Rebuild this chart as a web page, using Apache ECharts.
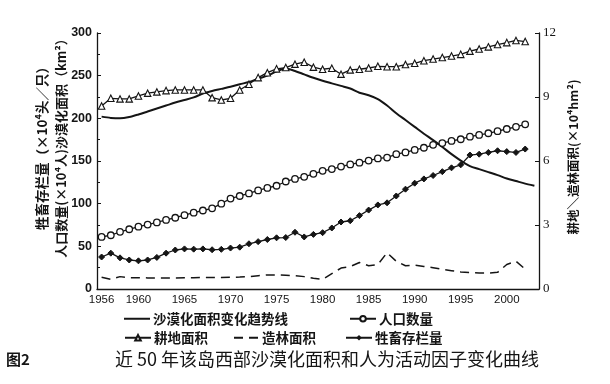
<!DOCTYPE html>
<html>
<head>
<meta charset="utf-8">
<script src="https://cdn.jsdelivr.net/npm/echarts@6/dist/echarts.min.js"></script>
<style>
html,body{margin:0;padding:0;background:#fff;}
#c{width:610px;height:384px;}
</style>
</head>
<body>
<div id="c"></div>
<script>
// Categories (years); 2003 only carries the end of the trend line
var years = ['1956','1957','1958','1959','1960','1961','1962','1963','1964','1965',
  '1966','1967','1968','1969','1970','1971','1972','1973','1974','1975',
  '1976','1977','1978','1979','1980','1981','1982','1983','1984','1985',
  '1986','1987','1988','1989','1990','1991','1992','1993','1994','1995',
  '1996','1997','1998','1999','2000','2001','2002','2003'];
var xTickLabels = ['1956','1960','1965','1970','1975','1980','1985','1990','1995','2000'];

// 沙漠化面积变化趋势线 (km², left axis)
var desertArea = [202, 200.5, 200, 201.5, 204.5, 208, 211.5, 215, 218.5, 221.5,
  224.5, 229, 232, 234.5, 237, 240, 242.5, 246.5, 250, 255,
  258.5, 255.5, 251.5, 247.5, 244, 241, 238, 235, 230, 227,
  222.5, 215, 206, 198, 190, 182, 174.5, 166.5, 158, 150.5,
  144, 140.5, 137, 133.5, 129.5, 126.5, 123.5, 121];
// 人口数量 (×10⁴人, left axis)
var population = [61, 63, 67, 70, 73, 75.5, 78, 81, 83.5, 86.5,
  89.5, 92, 94.5, 100, 106, 109, 112, 115.5, 118.5, 121,
  126, 129, 131.5, 135, 138.5, 140.5, 143.5, 146, 148, 150.5,
  153, 154, 158, 160, 163, 165.5, 169, 171, 173.5, 175.5,
  178.5, 180.5, 182.5, 185, 187.5, 190, 193];
// 牲畜存栏量 (×10⁴头/只, left axis)
var livestock = [37.5, 42, 36.5, 34, 33, 34, 37, 42, 45.7, 47,
  46.7, 47, 46, 46.5, 48, 49, 53, 55.5, 58, 60,
  60.3, 66.5, 61, 64, 66, 71.5, 78.5, 80, 86, 92.5,
  98.5, 101, 109, 117, 124, 129, 133, 137.5, 142, 145.5,
  157, 158, 160, 162, 161, 160, 164];
// 耕地面积 (×10⁴hm², right axis)
var cultivatedArea = [8.58, 8.94, 8.91, 8.91, 9.05, 9.18, 9.24, 9.3, 9.33, 9.33,
  9.33, 9.33, 8.97, 8.86, 8.94, 9.33, 9.6, 9.91, 10.14, 10.32,
  10.38, 10.54, 10.63, 10.4, 10.3, 10.35, 10.07, 10.27, 10.3, 10.36,
  10.44, 10.42, 10.42, 10.52, 10.58, 10.7, 10.78, 10.85, 10.92, 11.0,
  11.15, 11.25, 11.35, 11.46, 11.55, 11.65, 11.6];
// 造林面积 (×10⁴hm², right axis)
var afforestArea = [0.55, 0.45, 0.58, 0.53, 0.53, 0.52, 0.52, 0.52, 0.52, 0.53,
  0.53, 0.54, 0.54, 0.54, 0.55, 0.56, 0.58, 0.62, 0.66, 0.66,
  0.64, 0.62, 0.58, 0.5, 0.45, 0.72, 0.98, 1.05, 1.24, 1.09,
  1.15, 1.7, 1.3, 1.09, 1.12, 1.06, 1.0, 0.92, 0.86, 0.8,
  0.77, 0.75, 0.75, 0.78, 1.15, 1.3, 0.93];

var seriesNames = ['沙漠化面积变化趋势线', '人口数量', '耕地面积', '造林面积', '牲畜存栏量'];
var leftAxisName1 = '牲畜存栏量（×10⁴头／只）';
var leftAxisName2 = '人口数量(×10⁴人)沙漠化面积（km²）';
var rightAxisName = '耕地＼造林面积(×10⁴hm²)';
var figLabel = '图2';
var caption = '近 50 年该岛西部沙漠化面积和人为活动因子变化曲线';

var INK = '#151515';
var NUMFONT = "'Liberation Sans', Arial, sans-serif";
var CJKFONT = "'Noto Sans CJK SC', 'Liberation Sans', sans-serif";

var chart = echarts.init(document.getElementById('c'), null, {renderer: 'canvas'});

function legendAt(item, left, top, iw, ih) {
  return {
    data: [item], left: left, top: top, orient: 'horizontal',
    itemWidth: iw || 26, itemHeight: ih || 7, itemGap: 4, padding: 0,
    textStyle: {color: INK, fontSize: 13.5, fontFamily: CJKFONT, fontWeight: 'bold', padding: [0,0,0,-2]},
    selectedMode: false
  };
}

var option = {
  animation: false,
  backgroundColor: '#fff',
  grid: {left: 97, right: 71, top: 33, bottom: 95},
  legend: [
    legendAt({name: seriesNames[0], icon: 'rect'}, 124, 312, 26, 2),
    legendAt(seriesNames[1], 349, 312),
    legendAt(seriesNames[2], 124, 331),
    legendAt({name: seriesNames[3], icon: 'path://M0,0h9v2h-9zM15,0h9v2h-9z'}, 234, 331, 26, 2),
    legendAt(seriesNames[4], 345, 331)
  ],
  xAxis: {
    type: 'category', data: years, boundaryGap: true,
    axisLine: {lineStyle: {color: INK, width: 1.3}},
    axisTick: {inside: true, alignWithLabel: true, length: 4, lineStyle: {color: INK},
      interval: function (i, v) { return xTickLabels.indexOf(v) >= 0; }},
    axisLabel: {color: INK, fontFamily: NUMFONT, fontSize: 11.5, margin: 5,
      interval: function (i, v) { return xTickLabels.indexOf(v) >= 0; }},
    splitLine: {show: false}
  },
  yAxis: [
    {type: 'value', min: 0, max: 300, interval: 50, position: 'left',
      axisLine: {show: true, lineStyle: {color: INK, width: 1.3}},
      axisTick: {show: true, inside: true, length: 4, lineStyle: {color: INK}},
      minorTick: {show: true, splitNumber: 2, length: 3, lineStyle: {color: INK}},
      axisLabel: {color: INK, fontFamily: NUMFONT, fontWeight: 'bold', fontSize: 12.5, margin: 5},
      splitLine: {show: false}},
    {type: 'value', min: 0, max: 12, interval: 3, position: 'right',
      axisLine: {show: true, lineStyle: {color: INK, width: 1.3}},
      axisTick: {show: true, inside: true, length: 4, lineStyle: {color: INK}},
      axisLabel: {color: INK, fontFamily: "'Liberation Serif', serif", fontSize: 13, margin: 4},
      splitLine: {show: false}}
  ],
  series: [
    {name: seriesNames[0], type: 'line', yAxisIndex: 0, data: desertArea,
      symbol: 'none', smooth: 0.3, lineStyle: {color: INK, width: 2}, itemStyle: {color: INK}},
    {name: seriesNames[1], type: 'line', yAxisIndex: 0, data: population,
      symbol: 'circle', symbolSize: 6.5, showAllSymbol: true, lineStyle: {color: INK, width: 1.3},
      itemStyle: {color: '#fff', borderColor: INK, borderWidth: 1.3}},
    {name: seriesNames[2], type: 'line', yAxisIndex: 1, data: cultivatedArea,
      symbol: 'triangle', symbolSize: 6.5, showAllSymbol: true, lineStyle: {color: INK, width: 1.3},
      itemStyle: {color: '#fff', borderColor: INK, borderWidth: 1.1}},
    {name: seriesNames[3], type: 'line', yAxisIndex: 1, data: afforestArea,
      symbol: 'none', lineStyle: {color: INK, width: 1.5, type: [9, 6]}, itemStyle: {color: INK}},
    {name: seriesNames[4], type: 'line', yAxisIndex: 0, data: livestock,
      symbol: 'diamond', symbolSize: 6, showAllSymbol: true, lineStyle: {color: INK, width: 1.3},
      itemStyle: {color: INK, borderColor: INK}}
  ],
  graphic: [
    {type: 'text', x: 42, y: 145, rotation: Math.PI / 2,
      style: {text: leftAxisName1, fill: INK, font: 'bold 13.5px ' + CJKFONT, align: 'center', verticalAlign: 'middle'}},
    {type: 'text', x: 61, y: 145, rotation: Math.PI / 2,
      style: {text: leftAxisName2, fill: INK, font: 'bold 13px ' + CJKFONT, align: 'center', verticalAlign: 'middle'}},
    {type: 'text', x: 573, y: 157, rotation: Math.PI / 2,
      style: {text: rightAxisName, fill: INK, font: 'bold 12.5px ' + CJKFONT, align: 'center', verticalAlign: 'middle'}},
    {type: 'text', x: 6, y: 359,
      style: {text: figLabel, fill: INK, font: 'bold 15px ' + CJKFONT, align: 'left', verticalAlign: 'middle'}},
    {type: 'text', x: 115, y: 359,
      style: {text: caption, fill: INK, font: '18px ' + CJKFONT, align: 'left', verticalAlign: 'middle'}}
  ]
};
chart.setOption(option);
</script>
</body>
</html>
